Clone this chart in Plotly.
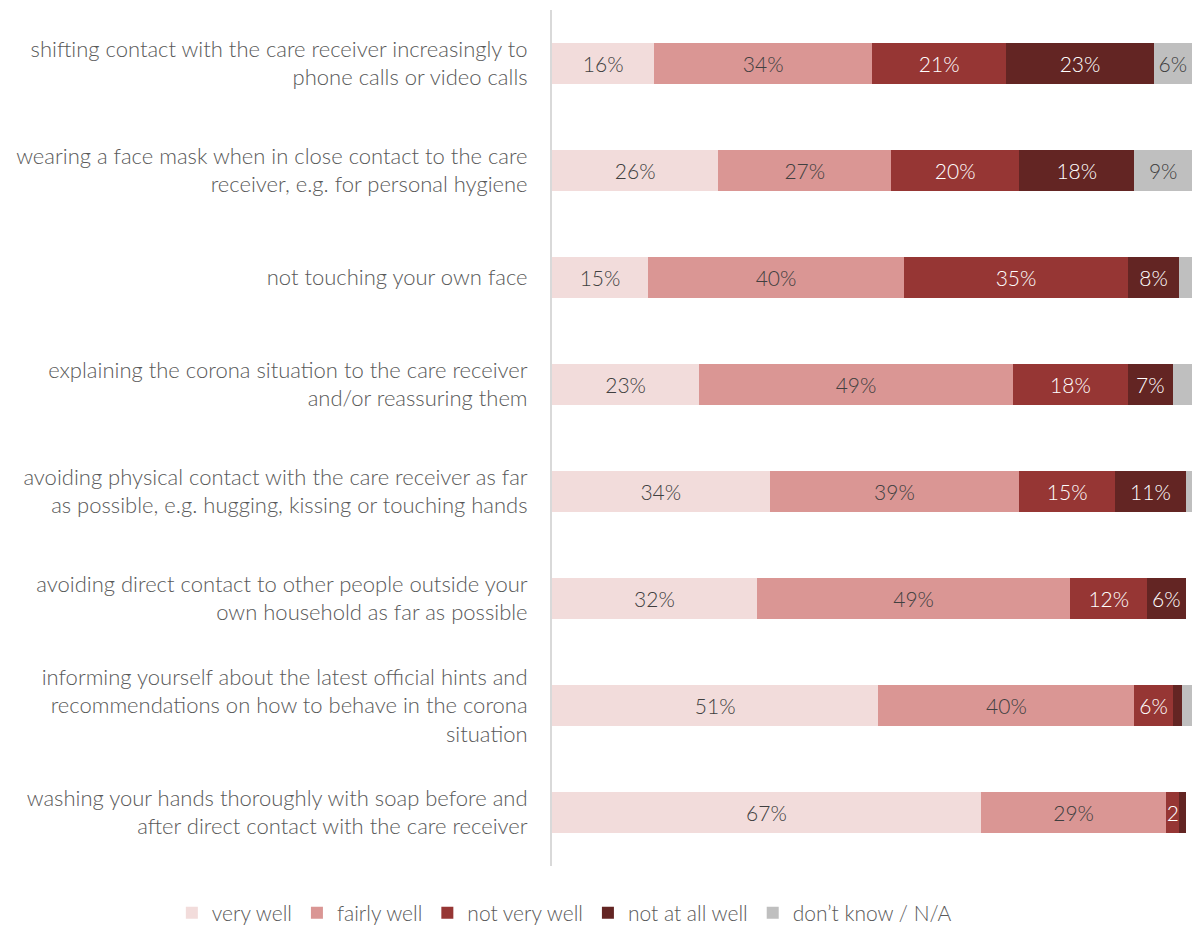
import plotly.graph_objects as go

# Survey items (top to bottom)
items = [
    "shifting contact with the care receiver increasingly to<br>phone calls or video calls",
    "wearing a face mask when in close contact to the care<br>receiver, e.g. for personal hygiene",
    "not touching your own face",
    "explaining the corona situation to the care receiver<br>and/or reassuring them",
    "avoiding physical contact with the care receiver as far<br>as possible, e.g. hugging, kissing or touching hands",
    "avoiding direct contact to other people outside your<br>own household as far as possible",
    "informing yourself about the latest official hints and<br>recommendations on how to behave in the corona<br>situation",
    "washing your hands thoroughly with soap before and<br>after direct contact with the care receiver",
]

# Share of respondents (%) per answer
very_well = [16, 26, 15, 23, 34, 32, 51, 67]
fairly_well = [34, 27, 40, 49, 39, 49, 40, 29]
not_very_well = [21, 20, 35, 18, 15, 12, 6, 2]
not_at_all_well = [23, 18, 8, 7, 11, 6, 1.5, 1]
dont_know = [6, 9, 2, 3, 1, 0, 1.5, 0]

series = [
    ("very well", very_well, "#F2DCDB", "#404040", True),
    ("fairly well", fairly_well, "#DA9694", "#404040", True),
    ("not very well", not_very_well, "#963634", "#FFFFFF", True),
    ("not at all well", not_at_all_well, "#632523", "#FFFFFF", True),
    ("don\u2019t know / N/A", dont_know, "#BFBFBF", "#404040", False),
]

FONT = "Lato"
WEIGHT = 300


def label(v, small_ok):
    if v >= 5:
        return f"{v:g}%"
    if small_ok and v >= 2:
        return f"{v:g}"
    return ""


fig = go.Figure()
for name, vals, color, txtcol, small_ok in series:
    fig.add_trace(go.Bar(
        name=name,
        y=items,
        x=vals,
        orientation="h",
        marker=dict(color=color, line=dict(width=0)),
        text=[label(v, small_ok) for v in vals],
        textposition="inside",
        insidetextanchor="middle",
        textangle=0,
        constraintext="none",
        insidetextfont=dict(family=FONT, size=21, color=txtcol, weight=WEIGHT),
        hoverinfo="name+x",
    ))

fig.update_layout(
    barmode="stack",
    bargap=0.61,
    width=1192,
    height=930,
    margin=dict(l=552, r=0, t=10, b=64, autoexpand=False),
    paper_bgcolor="white",
    plot_bgcolor="white",
    font=dict(family=FONT, size=22, color="#595959", weight=WEIGHT),
    legend=dict(
        orientation="h",
        x=-0.594, xanchor="left",
        y=-0.055, yanchor="middle",
        font=dict(family=FONT, size=21, color="#595959", weight=WEIGHT),
        traceorder="normal",
        itemwidth=30,
    ),
    showlegend=True,
)

fig.update_xaxes(
    range=[0, 100],
    showticklabels=False,
    showgrid=False,
    zeroline=False,
    showline=False,
    fixedrange=True,
)
fig.update_yaxes(
    autorange="reversed",
    showline=True,
    linecolor="#D9D9D9",
    linewidth=2,
    ticks="",
    ticklabelstandoff=18,
    tickfont=dict(family=FONT, size=22, color="#595959", weight=WEIGHT),
    showgrid=False,
)

fig.write_html("out.html")
